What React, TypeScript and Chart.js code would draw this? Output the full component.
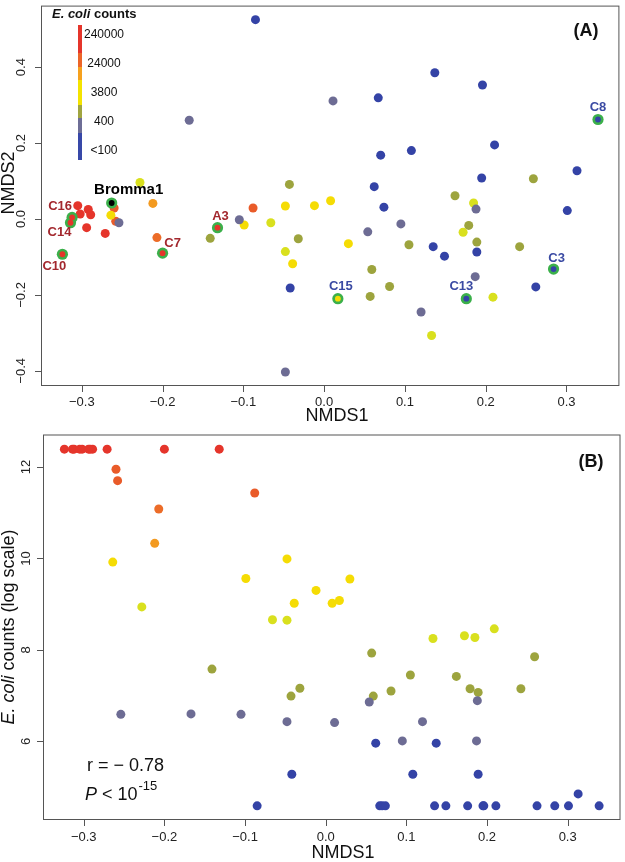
import React, { useEffect, useRef } from "react";
import { Chart, registerables } from "chart.js";
Chart.register(...registerables);

// ---------------- DATA ----------------
const sampleNames = [
  "C10", "C14", "C16", "", "", "", "", "", "", "C7", "A3",
  "", "", "", "", "",
  "", "", "", "", "", "", "", "", "", "", "C15", "", "", "", "",
  "", "", "", "", "", "", "", "", "", "", "", "",
  "", "", "", "", "", "", "", "", "", "",
  "", "", "", "", "", "", "", "", "", "", "", "C13", "", "", "", "", "C3", "", "", "C8",
  "Bromma1",
];

const nmds1 = [
  -0.324, -0.314, -0.312, -0.305, -0.302, -0.292, -0.289, -0.294, -0.271, -0.2, -0.132,
  -0.26, -0.258, -0.207, -0.212, -0.088,
  -0.264, -0.228, -0.099, -0.048, -0.039, -0.066, -0.048, -0.012, 0.03, 0.008, 0.017, 0.133, 0.172, 0.185, 0.209,
  -0.141, -0.043, -0.032, 0.059, 0.057, 0.259, 0.105, 0.162, 0.081, 0.179, 0.189, 0.242,
  -0.254, -0.167, -0.105, -0.048, 0.054, 0.188, 0.011, 0.12, 0.095, 0.187,
  -0.085, -0.042, 0.062, 0.067, 0.07, 0.074, 0.135, 0.137, 0.108, 0.189, 0.149, 0.176, 0.195, 0.196, 0.211, 0.262, 0.284, 0.301, 0.313, 0.339,
  -0.263,
];

const nmds2 = [
  -0.093, -0.01, 0.004, 0.035, 0.013, 0.025, 0.011, -0.023, -0.038, -0.09, -0.023,
  0.029, -0.006, -0.049, 0.041, 0.029,
  0.01, 0.096, -0.016, 0.034, -0.118, -0.01, -0.086, 0.035, -0.065, 0.048, -0.21, -0.307, -0.035, 0.042, -0.206,
  -0.051, 0.091, -0.052, -0.133, -0.204, 0.106, -0.068, 0.061, -0.178, -0.017, -0.061, -0.073,
  -0.01, 0.26, -0.002, -0.403, -0.034, 0.026, 0.311, -0.245, -0.013, -0.152,
  0.525, -0.182, 0.085, 0.319, 0.168, 0.031, -0.073, 0.385, 0.18, -0.087, -0.098, -0.21, 0.108, 0.353, 0.195, -0.179, -0.132, 0.022, 0.127, 0.262,
  0.042,
];

// natural log of E. coli counts (null = not measured)
const logCounts: (number | null)[] = [
  12.39, 12.39, 12.39, 12.39, 12.39, 12.39, 12.39, 12.39, 12.39, 12.39, 12.39,
  11.95, 11.7, 11.08, 10.33, 11.43,
  9.92, 8.94, 9.56, 9.99, 9.02, 8.66, 8.65, 9.3, 9.55, 9.02, 9.08, 8.25, 8.31, 8.27, 8.46,
  7.58, 6.99, 7.16, 6.99, 7.93, 7.85, 7.45, 7.42, 7.1, 7.15, 7.07, 7.15,
  6.59, 6.6, 6.59, 6.43, 6.86, 6.89, 6.41, 6.43, 6.01, 6.01,
  4.59, 5.28, 5.96, 4.59, 4.59, 4.59, 4.59, 5.96, 5.28, 5.28, 4.59, 4.59, 4.59, 4.59, 4.59, 4.59, 4.59, 4.59, 4.85, 4.59,
  null,
];

const legendLabels = ["240000", "24000", "3800", "400", "<100"];
const xTicks = [-0.3, -0.2, -0.1, 0, 0.1, 0.2, 0.3];
const yTicksA = [-0.4, -0.2, 0, 0.2, 0.4];
const yTicksB = [6, 8, 10, 12];
const statR = "r = \u2212 0.78";

// ---------------- STYLE ----------------
const FONT = "'Liberation Sans', Arial, Helvetica, sans-serif";
const GREEN = "#3bb04a";
const RED_LABEL = "#a3282e";
const BLUE_LABEL = "#3a4aa3";

function countColor(v: number | null): string {
  if (v === null) return "#000000";
  if (v >= 12.2) return "#e5352b";
  if (v >= 11.3) return "#e95b29";
  if (v >= 10.8) return "#ec6c28";
  if (v >= 10.1) return "#f39a20";
  if (v >= 9.0) return "#f5dc04";
  if (v >= 8.2) return "#d9e01e";
  if (v >= 6.98) return "#9da43e";
  if (v >= 5.99) return "#6d6c94";
  return "#3443a6";
}

const labelStyle: Record<string, { dx: number; dy: number; color: string; size: number }> = {
  Bromma1: { dx: 17, dy: -13, color: "#000", size: 15 },
  C16: { dx: -12, dy: -11, color: RED_LABEL, size: 13 },
  C14: { dx: -11, dy: 10, color: RED_LABEL, size: 13 },
  C10: { dx: -8, dy: 12, color: RED_LABEL, size: 13 },
  C7: { dx: 10, dy: -10, color: RED_LABEL, size: 13 },
  A3: { dx: 3, dy: -11, color: RED_LABEL, size: 13 },
  C8: { dx: 0, dy: -12, color: BLUE_LABEL, size: 13 },
  C3: { dx: 3, dy: -11, color: BLUE_LABEL, size: 13 },
  C15: { dx: 3, dy: -12, color: BLUE_LABEL, size: 13 },
  C13: { dx: -5, dy: -12, color: BLUE_LABEL, size: 13 },
};

const legendSegments = [
  { from: 25, to: 53, color: "#e5352b" },
  { from: 53, to: 67, color: "#ec6528" },
  { from: 67, to: 80, color: "#f6a11e" },
  { from: 80, to: 105, color: "#f4e300" },
  { from: 105, to: 118, color: "#a0a540" },
  { from: 118, to: 133, color: "#6e6e96" },
  { from: 133, to: 160, color: "#3848a8" },
];
const legendLabelY = [35, 64, 93, 122, 151];

const fmtSigned = (t: number, d: number) => (t < 0 ? "\u2212" : "") + Math.abs(t).toFixed(d);

function drawAxes(chart: any, o: { yTicks: number[]; yDec: number; xLabelY: number; yLabelX: number }) {
  const ctx = chart.ctx as CanvasRenderingContext2D;
  const { left, right, top, bottom } = chart.chartArea;
  const xs = chart.scales.x;
  const ys = chart.scales.y;
  ctx.save();
  ctx.strokeStyle = "#555";
  ctx.lineWidth = 1;
  ctx.strokeRect(left + 0.5, top + 0.5, right - left - 1, bottom - top - 1);
  ctx.beginPath();
  for (const t of xTicks) {
    const px = Math.round(xs.getPixelForValue(t)) + 0.5;
    ctx.moveTo(px, bottom);
    ctx.lineTo(px, bottom + 6);
  }
  for (const t of o.yTicks) {
    const py = Math.round(ys.getPixelForValue(t)) + 0.5;
    ctx.moveTo(left, py);
    ctx.lineTo(left - 6, py);
  }
  ctx.stroke();
  ctx.fillStyle = "#222";
  ctx.font = `13px ${FONT}`;
  ctx.textAlign = "center";
  ctx.textBaseline = "middle";
  for (const t of xTicks) {
    ctx.fillText(fmtSigned(t, 1), xs.getPixelForValue(t), o.xLabelY);
  }
  for (const t of o.yTicks) {
    ctx.save();
    ctx.translate(o.yLabelX, ys.getPixelForValue(t));
    ctx.rotate(-Math.PI / 2);
    ctx.fillText(fmtSigned(t, o.yDec), 0, 0);
    ctx.restore();
  }
  ctx.restore();
}

const highlighted = sampleNames.map((n, i) => (n ? i : -1)).filter((i) => i >= 0);

export default function App() {
  const refA = useRef<HTMLCanvasElement>(null);
  const refB = useRef<HTMLCanvasElement>(null);

  useEffect(() => {
    const pointsA = nmds1.map((x, i) => ({ x, y: nmds2[i] }));
    const colors = logCounts.map((v) => countColor(v));

    const pluginA = {
      id: "decorA",
      afterDraw(chart: any) {
        const ctx = chart.ctx as CanvasRenderingContext2D;
        drawAxes(chart, { yTicks: yTicksA, yDec: 1, xLabelY: 402, yLabelX: 21.7 });
        ctx.save();
        ctx.fillStyle = "#111";
        ctx.font = `18px ${FONT}`;
        ctx.textAlign = "center";
        ctx.textBaseline = "middle";
        ctx.fillText("NMDS1", 337, 416);
        ctx.save();
        ctx.translate(9, 183);
        ctx.rotate(-Math.PI / 2);
        ctx.fillText("NMDS2", 0, 0);
        ctx.restore();
        ctx.font = `bold 18px ${FONT}`;
        ctx.fillText("(A)", 586, 31);
        // legend
        ctx.textAlign = "left";
        ctx.font = `italic bold 13px ${FONT}`;
        ctx.fillText("E. coli", 52, 14);
        const w = ctx.measureText("E. coli").width;
        ctx.font = `bold 13px ${FONT}`;
        ctx.fillText(" counts", 52 + w, 14);
        for (const s of legendSegments) {
          ctx.fillStyle = s.color;
          ctx.fillRect(78, s.from, 4, s.to - s.from);
        }
        ctx.fillStyle = "#111";
        ctx.font = `12px ${FONT}`;
        ctx.textAlign = "center";
        legendLabels.forEach((l, i) => ctx.fillText(l, 104, legendLabelY[i]));
        // sample labels
        const xs = chart.scales.x;
        const ys = chart.scales.y;
        for (const i of highlighted) {
          const st = labelStyle[sampleNames[i]];
          ctx.fillStyle = st.color;
          ctx.font = `bold ${st.size}px ${FONT}`;
          ctx.fillText(sampleNames[i], xs.getPixelForValue(nmds1[i]) + st.dx, ys.getPixelForValue(nmds2[i]) + st.dy);
        }
        ctx.restore();
      },
    };

    const chartA = new Chart(refA.current!, {
      type: "scatter",
      data: {
        datasets: [
          {
            data: pointsA,
            pointRadius: pointsA.map((_, i) => (sampleNames[i] ? 0 : 4.5)),
            pointBackgroundColor: colors,
            pointBorderWidth: 0,
            order: 3,
          },
          {
            data: highlighted.map((i) => pointsA[i]),
            pointRadius: 5.6,
            pointBackgroundColor: GREEN,
            pointBorderWidth: 0,
            order: 2,
          },
          {
            data: highlighted.map((i) => pointsA[i]),
            pointRadius: 2.9,
            pointBackgroundColor: highlighted.map((i) => colors[i]),
            pointBorderWidth: 0,
            order: 1,
          },
        ],
      },
      options: {
        animation: false,
        responsive: false,
        devicePixelRatio: 1,
        events: [],
        layout: { padding: { left: 41, top: 1, right: 4, bottom: 44 } },
        scales: {
          x: { type: "linear", min: -0.3505, max: 0.3655, display: false },
          y: { type: "linear", min: -0.44, max: 0.562, display: false },
        },
        plugins: { legend: { display: false }, tooltip: { enabled: false } },
      },
      plugins: [pluginA],
    } as any);

    const idxB = logCounts.map((v, i) => (v === null ? -1 : i)).filter((i) => i >= 0);
    const pluginB = {
      id: "decorB",
      afterDraw(chart: any) {
        const ctx = chart.ctx as CanvasRenderingContext2D;
        drawAxes(chart, { yTicks: yTicksB, yDec: 0, xLabelY: 407, yLabelX: 26.7 });
        ctx.save();
        ctx.fillStyle = "#111";
        ctx.textBaseline = "middle";
        ctx.textAlign = "center";
        ctx.font = `18px ${FONT}`;
        ctx.fillText("NMDS1", 343, 423);
        ctx.save();
        ctx.translate(9, 197);
        ctx.rotate(-Math.PI / 2);
        ctx.textAlign = "left";
        ctx.font = `italic 18px ${FONT}`;
        const w1 = ctx.measureText("E. coli").width;
        ctx.font = `18px ${FONT}`;
        const w2 = ctx.measureText(" counts (log scale)").width;
        const start = -(w1 + w2) / 2;
        ctx.font = `italic 18px ${FONT}`;
        ctx.fillText("E. coli", start, 0);
        ctx.font = `18px ${FONT}`;
        ctx.fillText(" counts (log scale)", start + w1, 0);
        ctx.restore();
        ctx.font = `bold 18px ${FONT}`;
        ctx.fillText("(B)", 591, 32);
        ctx.textAlign = "left";
        ctx.font = `18px ${FONT}`;
        ctx.fillText(statR, 87, 336);
        ctx.textBaseline = "alphabetic";
        ctx.font = `italic 18px ${FONT}`;
        ctx.fillText("P", 85, 370);
        const wp = ctx.measureText("P").width;
        ctx.font = `18px ${FONT}`;
        ctx.fillText(" < 10", 85 + wp, 370);
        const wl = ctx.measureText(" < 10").width;
        ctx.font = `13px ${FONT}`;
        ctx.fillText("-15", 85 + wp + wl + 1, 360);
        ctx.restore();
      },
    };

    const chartB = new Chart(refB.current!, {
      type: "scatter",
      data: {
        datasets: [
          {
            data: idxB.map((i) => ({ x: nmds1[i], y: logCounts[i] as number })),
            pointRadius: 4.5,
            pointBackgroundColor: idxB.map((i) => colors[i]),
            pointBorderWidth: 0,
          },
        ],
      },
      options: {
        animation: false,
        responsive: false,
        devicePixelRatio: 1,
        events: [],
        layout: { padding: { left: 43, top: 4, right: 2, bottom: 42 } },
        scales: {
          x: { type: "linear", min: -0.3505, max: 0.3655, display: false },
          y: { type: "linear", min: 4.28, max: 12.71, display: false },
        },
        plugins: { legend: { display: false }, tooltip: { enabled: false } },
      },
      plugins: [pluginB],
    } as any);

    return () => {
      chartA.destroy();
      chartB.destroy();
    };
  }, []);

  return (
    <div style={{ position: "absolute", left: 0, top: 0, width: 625, height: 862, background: "#fff" }}>
      <canvas ref={refA} width={625} height={430} style={{ position: "absolute", left: 0, top: 0, width: 625, height: 430 }} />
      <canvas ref={refB} width={625} height={432} style={{ position: "absolute", left: 0, top: 430, width: 625, height: 432 }} />
    </div>
  );
}
